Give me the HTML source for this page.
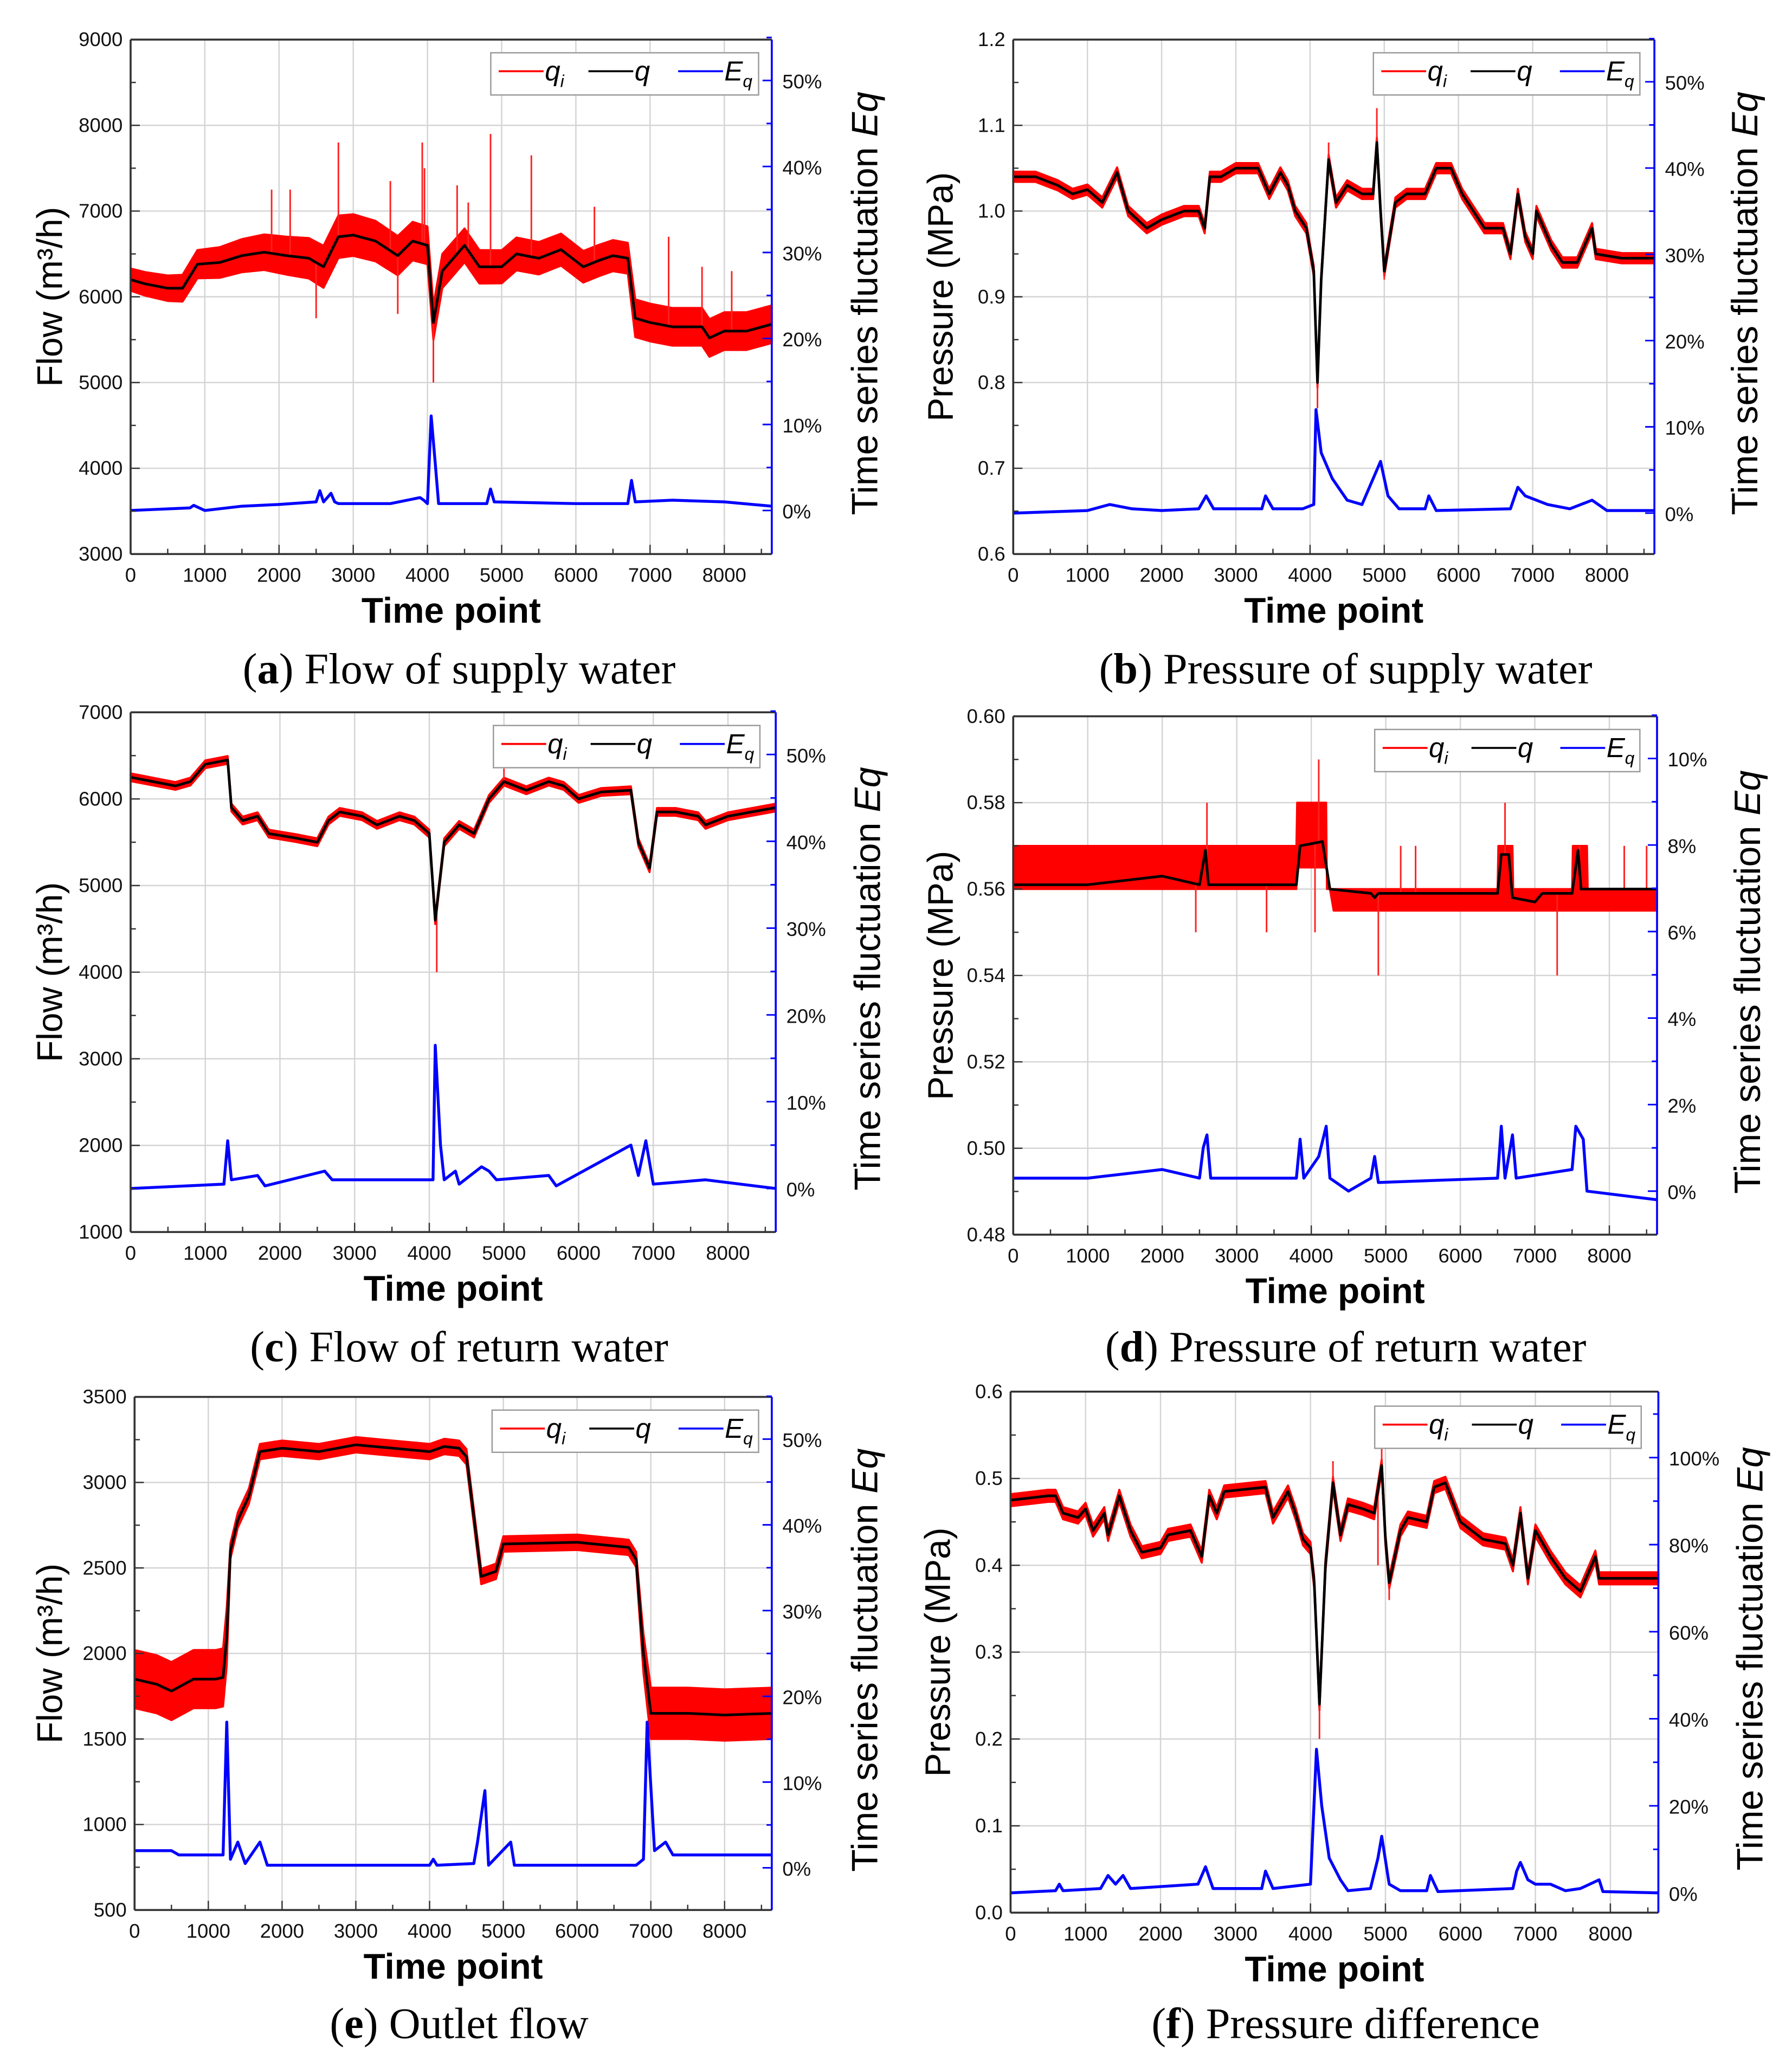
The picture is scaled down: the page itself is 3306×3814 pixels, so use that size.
<!DOCTYPE html>
<html><head><meta charset="utf-8"><style>
html,body{margin:0;padding:0;background:#fff;}
svg{display:block;}
</style></head><body>
<svg id="fig" width="3306" height="3814" viewBox="0 0 1358.3 1567" xmlns="http://www.w3.org/2000/svg" font-family="Liberation Sans, sans-serif">
<rect width="1358.3" height="1567" fill="#fff"/>
</svg>
<script>
// ---------- Panel (a) Flow of supply water ----------
const aT   = [0,200,500,700,900,1200,1500,1800,2100,2400,2600,2800,3000,3300,3600,3800,4000,4080,4200,4500,4700,5000,5200,5500,5800,6100,6300,6500,6700,6800,7000,7300,7700,7800,8000,8300,8640];
const aQ   = [6200,6150,6100,6100,6380,6400,6480,6520,6480,6450,6350,6700,6720,6650,6480,6650,6600,5700,6300,6600,6350,6350,6500,6450,6550,6350,6420,6480,6450,5750,5700,5650,5650,5520,5600,5600,5680];
const aAmpT = [0,800,2700,4000,4100,6700,6800,8640];
const aAmp  = [130,160,250,220,200,180,220,220];
const aSpikeT = [1900,2150,2500,2800,3500,3600,3930,3960,4080,4400,4550,4850,5400,6250,7250,7700,8100];
const aSpikeV = [7250,7250,5750,7800,7350,5800,7800,7500,5000,7300,7100,7900,7650,7050,6700,6350,6300];
const aET  = [0,800,850,1000,1500,2000,2500,2550,2600,2700,2750,2800,3500,3900,3950,4000,4050,4100,4150,4800,4850,4900,6000,6700,6750,6800,7300,8000,8640];
const aE   = [0,0.3,0.6,0,0.5,0.7,1,2.3,1,2,1,0.8,0.8,1.5,1.2,0.8,11,6,0.8,0.8,2.5,1,0.8,0.8,3.5,1,1.2,1,0.5];
// ---------- Panel (b) Pressure of supply water ----------
const bT = [0,300,600,800,1000,1200,1400,1550,1800,2000,2300,2500,2580,2650,2800,3000,3300,3450,3600,3700,3800,3950,4050,4100,4150,4250,4350,4500,4700,4850,4900,4950,5000,5150,5300,5550,5700,5900,6050,6200,6350,6600,6700,6800,6900,7000,7050,7250,7400,7600,7800,7850,8200,8640];
const bQ = [1.04,1.04,1.03,1.02,1.025,1.01,1.045,1.0,0.98,0.99,1.0,1.0,0.98,1.04,1.04,1.05,1.05,1.02,1.045,1.03,1.0,0.98,0.93,0.8,0.92,1.06,1.01,1.03,1.02,1.02,1.08,1.0,0.93,1.01,1.02,1.02,1.05,1.05,1.02,1.0,0.98,0.98,0.95,1.02,0.97,0.95,1.0,0.96,0.94,0.94,0.98,0.95,0.945,0.945];
const bAmpT = [0,8640];
const bAmp  = [0.006,0.006];
const bSpikeT = [4100,4250,4900,5000];
const bSpikeV = [0.77,1.08,1.12,0.92];
const bET = [0,1000,1300,1600,2000,2500,2600,2700,3350,3400,3500,3900,4050,4080,4150,4300,4500,4700,4850,4950,5050,5200,5550,5600,5700,6700,6800,6900,7200,7500,7800,8000,8640];
const bE  = [0,0.3,1,0.5,0.3,0.5,2,0.5,0.5,2,0.5,0.5,1,12,7,4,1.5,1,4,6,2,0.5,0.5,2,0.3,0.5,3,2,1,0.5,1.5,0.3,0.3];
// ---------- Panel (c) Flow of return water ----------
const cT = [0,300,600,800,1000,1300,1350,1500,1700,1850,2200,2500,2650,2800,3100,3300,3600,3800,4000,4080,4200,4400,4600,4800,5000,5300,5600,5800,6000,6300,6700,6800,6950,7050,7300,7600,7700,8000,8640];
const cQ = [6250,6200,6150,6200,6400,6450,5900,5750,5800,5600,5550,5500,5750,5850,5800,5700,5800,5750,5600,4600,5500,5700,5600,6000,6200,6100,6200,6150,6000,6080,6100,5500,5200,5850,5850,5800,5700,5800,5900];
const cAmpT = [0,8640];
const cAmp  = [45,45];
const cSpikeT = [4100,5000];
const cSpikeV = [4000,6350];
const cET = [0,1250,1300,1350,1700,1800,2600,2700,3400,4050,4080,4150,4200,4350,4400,4700,4800,4900,5600,5700,6700,6800,6900,7000,7700,8640];
const cE  = [0,0.5,5.5,1,1.5,0.3,2,1,1,1,16.5,5,1,2,0.5,2.5,2,1,1.5,0.3,5,1.5,5.5,0.5,1,0];
// ---------- Panel (d) Pressure of return water ----------
const dT = [0,1000,2000,2500,2580,2620,3800,3850,4150,4250,4800,4850,4900,6500,6550,6650,6700,7000,7100,7500,7580,7620,8640];
const dQ = [0.561,0.561,0.563,0.561,0.569,0.561,0.561,0.570,0.571,0.560,0.559,0.558,0.559,0.559,0.568,0.568,0.558,0.557,0.559,0.559,0.569,0.560,0.560];
const dLoT = [0,3800,3810,4200,4300,8640];
const dLo  = [0.560,0.560,0.565,0.565,0.555,0.555];
const dHiT = [0,3800,3810,4200,4210,6500,6510,6700,6710,7500,7510,7700,7710,8640];
const dHi  = [0.570,0.570,0.580,0.580,0.560,0.560,0.570,0.570,0.560,0.560,0.570,0.570,0.560,0.560];
const dSpikeT = [2450,2600,3400,4100,4050,4900,5200,5400,6600,7300,7600,8200,8500];
const dSpikeV = [0.550,0.580,0.550,0.590,0.550,0.540,0.570,0.570,0.580,0.540,0.570,0.570,0.570];
const dET = [0,1000,2000,2500,2550,2600,2650,3800,3850,3900,4100,4200,4250,4500,4800,4850,4900,6500,6550,6600,6700,6750,7500,7550,7650,7700,8640];
const dE  = [0.3,0.3,0.5,0.3,1.0,1.3,0.3,0.3,1.2,0.3,0.8,1.5,0.3,0,0.3,0.8,0.2,0.3,1.5,0.3,1.3,0.3,0.5,1.5,1.2,0,-0.2];
// ---------- Panel (e) Outlet flow ----------
const eT = [0,300,500,800,1100,1200,1250,1300,1400,1550,1700,2000,2500,3000,3500,4000,4200,4400,4500,4600,4700,4900,5000,6000,6700,6800,6900,7000,7500,8000,8640];
const eQ = [1850,1820,1780,1850,1850,1860,2100,2600,2780,2920,3180,3200,3180,3220,3200,3180,3210,3200,3150,2800,2450,2480,2640,2650,2620,2550,2000,1650,1650,1640,1650];
const eAmpT = [0,1250,1300,6800,6950,8640];
const eAmp  = [170,170,45,45,150,150];
const eSpikeT = [];
const eSpikeV = [];
const eET = [0,500,600,1200,1250,1300,1400,1500,1700,1800,4000,4050,4100,4600,4650,4750,4800,5100,5150,6800,6900,6950,7050,7200,7300,8640];
const eE  = [2,2,1.5,1.5,17,1,3,0.5,3,0.3,0.3,1,0.3,0.5,3,9,0.3,3,0.3,0.3,1,17,2,3,1.5,1.5];
// ---------- Panel (f) Pressure difference ----------
const fT = [0,500,600,700,900,1000,1100,1250,1300,1450,1600,1750,2000,2100,2400,2550,2650,2750,2850,3400,3500,3700,3800,3900,4000,4050,4120,4200,4300,4400,4500,4700,4850,4950,5000,5050,5200,5300,5550,5650,5800,6000,6300,6600,6700,6800,6900,7000,7200,7400,7600,7800,7850,8100,8640];
const fQ = [0.475,0.48,0.48,0.46,0.455,0.465,0.44,0.46,0.435,0.48,0.44,0.415,0.42,0.435,0.44,0.41,0.48,0.46,0.485,0.49,0.455,0.485,0.46,0.43,0.42,0.38,0.24,0.4,0.495,0.435,0.47,0.465,0.46,0.515,0.43,0.38,0.44,0.455,0.45,0.49,0.495,0.45,0.43,0.425,0.4,0.46,0.385,0.44,0.41,0.385,0.37,0.41,0.385,0.385,0.385];
const fAmpT = [0,8640];
const fAmp  = [0.007,0.007];
const fSpikeT = [4120,4300,4950,5050,4900];
const fSpikeV = [0.2,0.52,0.54,0.36,0.4];
const fET = [0,600,650,700,1200,1300,1400,1500,1600,2500,2600,2700,3350,3400,3500,4000,4080,4150,4250,4400,4500,4800,4900,4950,5050,5200,5550,5600,5700,6700,6750,6800,6900,7000,7200,7400,7600,7850,7900,8640];
const fE  = [0,0.5,2,0.5,1,4,2,4,1,2,6,1,1,5,1,2,33,20,8,3,0.5,1,8,13,2,0.5,0.5,4,0.3,1,5,7,3,2,2,0.5,1,3,0.3,0];

// ---------- tick labels ----------
const xTickVals = [0,1000,2000,3000,4000,5000,6000,7000,8000];
const aYTicks = [3000,4000,5000,6000,7000,8000,9000];
const bYTicks = [0.6,0.7,0.8,0.9,1.0,1.1,1.2];
const cYTicks = [1000,2000,3000,4000,5000,6000,7000];
const dYTicks = [0.48,0.50,0.52,0.54,0.56,0.58,0.60];
const eYTicks = [500,1000,1500,2000,2500,3000,3500];
const fYTicks = [0.0,0.1,0.2,0.3,0.4,0.5,0.6];
const aRTicks = [0,10,20,30,40,50];
const bRTicks = [0,10,20,30,40,50];
const cRTicks = [0,10,20,30,40,50];
const dRTicks = [0,2,4,6,8,10];
const eRTicks = [0,10,20,30,40,50];
const fRTicks = [0,20,40,60,80,100];

const NS='http://www.w3.org/2000/svg';
const svg=document.getElementById('fig');
function mk(tag,attrs,parent){const e=document.createElementNS(NS,tag);for(const k in attrs)e.setAttribute(k,attrs[k]);(parent||svg).appendChild(e);return e;}
function interp(ts,vs,t){if(t<=ts[0])return vs[0];for(let i=1;i<ts.length;i++){if(t<=ts[i]){const r=(t-ts[i-1])/(ts[i]-ts[i-1]);return vs[i-1]+r*(vs[i]-vs[i-1]);}}return vs[vs.length-1];}

const panels=[
 {id:'a',L:99,R:585,T:30,B:420,ymin:3000,ymax:9000,yt:aYTicks,fmt:v=>String(v),rt:aRTicks,r0:387,rPer:6.52,leg:[372,40,575,72],
  t:aT,q:aQ,ampT:aAmpT,amp:aAmp,sT:aSpikeT,sV:aSpikeV,eT:aET,e:aE,ytitle:'Flow (m³/h)',ytx:38,rtx:655,cap:['a',' Flow of supply water'],capx:348,capy:518},
 {id:'b',L:768,R:1254,T:30,B:420,ymin:0.6,ymax:1.2,yt:bYTicks,fmt:v=>v.toFixed(1),rt:bRTicks,r0:389,rPer:6.54,leg:[1041,40,1243,72],
  t:bT,q:bQ,ampT:bAmpT,amp:bAmp,sT:bSpikeT,sV:bSpikeV,eT:bET,e:bE,ytitle:'Pressure (MPa)',ytx:713,rtx:1322,cap:['b',' Pressure of supply water'],capx:1020,capy:518},
 {id:'c',L:99,R:588,T:540,B:934,ymin:1000,ymax:7000,yt:cYTicks,fmt:v=>String(v),rt:cRTicks,r0:901,rPer:6.58,leg:[374,550,576,582],
  t:cT,q:cQ,ampT:cAmpT,amp:cAmp,sT:cSpikeT,sV:cSpikeV,eT:cET,e:cE,ytitle:'Flow (m³/h)',ytx:38,rtx:657,cap:['c',' Flow of return water'],capx:348,capy:1032},
 {id:'d',L:768,R:1256,T:543,B:936,ymin:0.48,ymax:0.60,yt:dYTicks,fmt:v=>v.toFixed(2),rt:dRTicks,r0:903,rPer:32.8,leg:[1042,553,1243,585],
  t:dT,q:dQ,band:[dLoT,dLo,dHiT,dHi],sT:dSpikeT,sV:dSpikeV,eT:dET,e:dE,ytitle:'Pressure (MPa)',ytx:713,rtx:1324,cap:['d',' Pressure of return water'],capx:1020,capy:1032},
 {id:'e',L:102,R:585,T:1059,B:1448,ymin:500,ymax:3500,yt:eYTicks,fmt:v=>String(v),rt:eRTicks,r0:1416,rPer:6.5,leg:[373,1069,575,1101],
  t:eT,q:eQ,ampT:eAmpT,amp:eAmp,sT:eSpikeT,sV:eSpikeV,eT:eET,e:eE,ytitle:'Flow (m³/h)',ytx:38,rtx:655,cap:['e',' Outlet flow'],capx:348,capy:1545},
 {id:'f',L:766,R:1257,T:1055,B:1450,ymin:0,ymax:0.6,yt:fYTicks,fmt:v=>v.toFixed(1),rt:fRTicks,r0:1435,rPer:3.3,leg:[1042,1066,1244,1098],
  t:fT,q:fQ,ampT:fAmpT,amp:fAmp,sT:fSpikeT,sV:fSpikeV,eT:fET,e:fE,ytitle:'Pressure (MPa)',ytx:711,rtx:1326,cap:['f',' Pressure difference'],capx:1020,capy:1545}
];
const XMAX=8640;

panels.forEach(p=>{
 const g=mk('g',{});
 
 
 const X=t=>p.L+(t/XMAX)*(p.R-p.L);
 const Y=v=>p.B-(v-p.ymin)/(p.ymax-p.ymin)*(p.B-p.T);
 const YR=e=>p.r0-e*p.rPer;
 xTickVals.forEach(t=>{const l=mk('line',{x1:X(t),x2:X(t),y1:p.T,y2:p.B,stroke:'#d4d4d4','stroke-width':1},g);});
 p.yt.forEach(v=>{const l=mk('line',{x1:p.L,x2:p.R,y1:Y(v),y2:Y(v),stroke:'#d4d4d4','stroke-width':1},g);});
 let up='',dn='';
 if(p.band){
   const ts=[...new Set([...p.band[0],...p.band[2]])].sort((a,b)=>a-b);
   ts.forEach(t=>{up+=X(t)+','+Y(interp(p.band[2],p.band[3],t))+' ';});
   ts.slice().reverse().forEach(t=>{dn+=X(t)+','+Y(interp(p.band[0],p.band[1],t))+' ';});
 } else {
   p.t.forEach((t,i)=>{up+=X(t)+','+Y(p.q[i]+interp(p.ampT,p.amp,t))+' ';});
   p.t.slice().reverse().forEach((t,j)=>{const i=p.t.length-1-j;dn+=X(t)+','+Y(p.q[i]-interp(p.ampT,p.amp,t))+' ';});
 }
 const band=mk('polygon',{points:up+dn,fill:'#ff0000',stroke:'#ff0000','stroke-width':1.5,'stroke-linejoin':'round'},g);
 
 
 p.sT.forEach((t,i)=>{const base=interp(p.t,p.q,t);const s=mk('line',{x1:X(t),x2:X(t),y1:Y(base),y2:Y(p.sV[i]),stroke:'#ff2020','stroke-width':1.2},g);});
 const ql=mk('polyline',{points:p.t.map((t,i)=>X(t)+','+Y(p.q[i])).join(' '),fill:'none',stroke:'#000','stroke-width':2,'stroke-linejoin':'round'},g);
 
 
 const el=mk('polyline',{points:p.eT.map((t,i)=>X(t)+','+YR(p.e[i])).join(' '),fill:'none',stroke:'#0000ff','stroke-width':2.2,'stroke-linejoin':'round'},g);
 
 
 mk('line',{x1:p.L,x2:p.R,y1:p.T,y2:p.T,stroke:'#333','stroke-width':1.5},g);
 mk('line',{x1:p.L,x2:p.L,y1:p.T,y2:p.B,stroke:'#333','stroke-width':1.5},g);
 mk('line',{x1:p.L,x2:p.R,y1:p.B,y2:p.B,stroke:'#333','stroke-width':1.5},g);
 const ra=mk('line',{x1:p.R,x2:p.R,y1:p.T,y2:p.B,stroke:'#0000ff','stroke-width':1.5},g);
 
 
 for(let t=0;t<=8500;t+=500){const major=t%1000===0;mk('line',{x1:X(t),x2:X(t),y1:p.B,y2:p.B-(major?7:4),stroke:'#333','stroke-width':1},g);}
 xTickVals.forEach(t=>{const tx=mk('text',{x:X(t),y:p.B+21,'font-size':15,'text-anchor':'middle',fill:'#111'},g);tx.textContent=String(t);});
 const ystep=p.yt[1]-p.yt[0];
 p.yt.forEach((v,i)=>{mk('line',{x1:p.L,x2:p.L+7,y1:Y(v),y2:Y(v),stroke:'#333','stroke-width':1},g);
   if(i<p.yt.length-1)mk('line',{x1:p.L,x2:p.L+4,y1:Y(v+ystep/2),y2:Y(v+ystep/2),stroke:'#333','stroke-width':1},g);
   const tx=mk('text',{x:p.L-6,y:Y(v)+5,'font-size':15,'text-anchor':'end',fill:'#111'},g);tx.textContent=p.fmt(v);});
 const rstep=p.rt[1]-p.rt[0];
 p.rt.forEach(v=>{mk('line',{x1:p.R,x2:p.R-7,y1:YR(v),y2:YR(v),stroke:'#0000ff','stroke-width':1.2},g);
   mk('line',{x1:p.R,x2:p.R-4,y1:YR(v+rstep/2),y2:YR(v+rstep/2),stroke:'#0000ff','stroke-width':1.2},g);
   const tx=mk('text',{x:p.R+8,y:YR(v)+6,'font-size':15,fill:'#111'},g);tx.textContent=v+'%';});
 const xt=mk('text',{x:(p.L+p.R)/2,y:p.B+52,'font-size':27,'text-anchor':'middle',fill:'#000','font-weight':'bold'},g);
 xt.textContent='Time point';
 const yc=(p.T+p.B)/2;
 const yt=mk('text',{x:p.ytx,y:yc,'font-size':27,'text-anchor':'middle',fill:'#000',transform:`rotate(-90 ${p.ytx} ${yc})`,dy:9},g);
 yt.textContent=p.ytitle;
 const rc=(p.T+p.B)/2+5;
 const rtt=mk('text',{x:p.rtx,y:rc,'font-size':28,'text-anchor':'middle',fill:'#000',transform:`rotate(-90 ${p.rtx} ${rc})`,dy:10},g);
 rtt.textContent='Time series fluctuation ';
 const ts=mk('tspan',{'font-style':'italic'},rtt);ts.textContent='Eq';
 
 const [lx1,ly1,lx2,ly2]=p.leg;const lg=mk('g',{},g);
 
 
 mk('rect',{x:lx1,y:ly1,width:lx2-lx1,height:ly2-ly1,fill:'#fff',stroke:'#999','stroke-width':1},lg);
 const ly=(ly1+ly2)/2-2;const w=lx2-lx1;
 [['#ff0000','q','i'],['#000','q',''],['#0000ff','E','q']].forEach((it,k)=>{
   const sx=lx1+6+k*w*0.335;
   mk('line',{x1:sx,x2:sx+34,y1:ly,y2:ly,stroke:it[0],'stroke-width':1.5},lg);
   const tx=mk('text',{x:sx+35,y:ly+7,'font-size':21,'font-style':'italic',fill:'#000'},lg);
   tx.textContent=it[1];
   if(it[2]){const sb=mk('tspan',{'font-size':13,dy:5},tx);sb.textContent=it[2];}
   
 });
 const cp=mk('text',{x:p.capx,y:p.capy,'font-size':33,'text-anchor':'middle',fill:'#000','font-family':'Liberation Serif, serif'},g);
 cp.appendChild(document.createTextNode('('));
 const bb=mk('tspan',{'font-weight':'bold'},cp);bb.textContent=p.cap[0];
 cp.appendChild(document.createTextNode(')'+p.cap[1]));
 
});
</script>
</body></html>
